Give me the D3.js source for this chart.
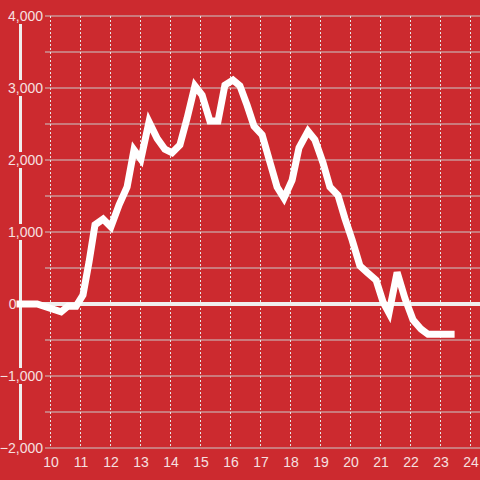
<!DOCTYPE html>
<html>
<head>
<meta charset="utf-8">
<script src="https://cdn.jsdelivr.net/npm/d3@7"></script>
<style>
  html, body { margin: 0; padding: 0; background: #cc2a2f; }
  svg { display: block; }
</style>
</head>
<body>
<div id="chart"></div>
<script>
// hours of the day (x) and the series value at each of them
var hours = [9.0, 9.57, 10.37, 10.6, 10.87, 11.1, 11.3, 11.5, 11.77, 12.03,
  12.3, 12.57, 12.8, 13.03, 13.3, 13.57, 13.83, 14.07, 14.33, 14.57,
  14.83, 15.07, 15.33, 15.6, 15.83, 16.1, 16.33, 16.57, 16.8, 17.07,
  17.33, 17.57, 17.8, 18.07, 18.3, 18.6, 18.83, 19.1, 19.33, 19.6,
  19.83, 20.07, 20.33, 20.57, 20.87, 21.1, 21.3, 21.57, 21.83, 22.1,
  22.37, 22.6, 23.37];
var values = [0, 0, -110, -30, -30, 125, 580, 1100, 1180, 1070,
  1375, 1625, 2140, 2010, 2530, 2300, 2150, 2100, 2210, 2580,
  3030, 2900, 2540, 2540, 3040, 3110, 3030, 2760, 2470, 2350,
  1970, 1625, 1470, 1720, 2170, 2400, 2280, 1960, 1625, 1510,
  1190, 890, 530, 440, 330, 30, -125, 440, 80, -220,
  -350, -420, -420];

var xTicks = [10, 11, 12, 13, 14, 15, 16, 17, 18, 19, 20, 21, 22, 23, 24];
var yLabelTicks = [-2000, -1000, 0, 1000, 2000, 3000, 4000];
var yGridTicks = [-2000, -1500, -1000, -500, 500, 1000, 1500, 2000, 2500, 3000, 3500, 4000];

var width = 480, height = 480;
var bg = '#cc2a2f';
var textColor = '#f6e0e0';

var x = d3.scaleLinear().domain([9, 24.333]).range([20, 480]);
var y = d3.scaleLinear().domain([-2000, 4000]).range([448, 16]);

var svg = d3.select('#chart').append('svg')
  .attr('width', width)
  .attr('height', height)
  .style('font-family', '"Liberation Sans", Arial, sans-serif');

svg.append('rect')
  .attr('width', width)
  .attr('height', height)
  .attr('fill', bg);

// horizontal grid
svg.append('g').selectAll('line')
  .data(yGridTicks)
  .enter().append('line')
  .attr('x1', 45).attr('x2', width)
  .attr('y1', d => y(d)).attr('y2', d => y(d))
  .attr('stroke', '#c9c9c9')
  .attr('stroke-width', 1.2);

// vertical dashed grid
svg.append('g').selectAll('line')
  .data(xTicks)
  .enter().append('line')
  .attr('x1', d => x(d) + 0.5).attr('x2', d => x(d) + 0.5)
  .attr('y1', y(4000)).attr('y2', y(-2000))
  .attr('stroke', '#e6e6e6')
  .attr('stroke-width', 1)
  .attr('stroke-dasharray', '2,2');

// y axis bar
svg.append('line')
  .attr('x1', x(9) + 0.5).attr('x2', x(9) + 0.5)
  .attr('y1', y(4000)).attr('y2', y(-2000))
  .attr('stroke', '#f0eeee')
  .attr('stroke-width', 3);

// zero line
svg.append('line')
  .attr('x1', x(9)).attr('x2', width)
  .attr('y1', y(0)).attr('y2', y(0))
  .attr('stroke', '#f0eeee')
  .attr('stroke-width', 4);

// the series
var line = d3.line()
  .x((d, i) => x(hours[i]))
  .y(d => y(d));

svg.append('path')
  .datum(values)
  .attr('d', line)
  .attr('fill', 'none')
  .attr('stroke', '#ffffff')
  .attr('stroke-width', 7)
  .attr('stroke-linejoin', 'miter')
  .attr('stroke-linecap', 'square');

// y labels with a background that cuts the axis bar
// (the zero label sits left of the bar instead)
var yl = svg.append('g').selectAll('g')
  .data(yLabelTicks)
  .enter().append('g')
  .attr('transform', d => d === 0 ? `translate(16.5,${y(d)})` : `translate(43,${y(d)})`);

yl.filter(d => d !== 0).append('rect')
  .attr('x', -42).attr('y', -8)
  .attr('width', 42).attr('height', 16)
  .attr('fill', bg);

yl.append('text')
  .attr('text-anchor', 'end')
  .attr('dy', '0.36em')
  .attr('fill', textColor)
  .style('font-size', '14px')
  .text(d => d3.format(',')(d));

// x labels
svg.append('g').selectAll('text')
  .data(xTicks)
  .enter().append('text')
  .attr('x', d => x(d) + 1)
  .attr('y', 467)
  .attr('text-anchor', 'middle')
  .attr('fill', textColor)
  .style('font-size', '14px')
  .text(d => d);
</script>
</body>
</html>
